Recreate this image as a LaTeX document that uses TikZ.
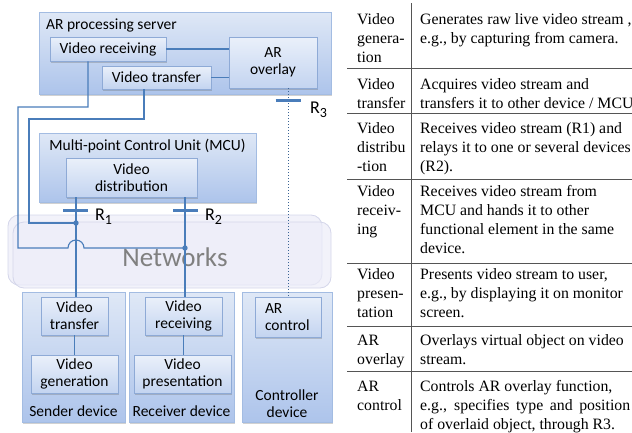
\documentclass[tikz,border=0pt]{standalone}
\usepackage{fontspec}
\setmainfont{Liberation Serif}
\newfontfamily\dfont{Carlito}
\newfontfamily\tfont{Liberation Serif}
\usetikzlibrary{shadows,calc}
\definecolor{lnblue}{HTML}{4A7DBA}
\definecolor{ctop}{HTML}{DFE8F6}
\definecolor{cbot}{HTML}{ADC4EB}
\definecolor{cbrd}{HTML}{A3BCE2}
\definecolor{itop}{HTML}{EAF0FA}
\definecolor{ibot}{HTML}{C3D4F0}
\definecolor{ibrd}{HTML}{8EAAD6}
\definecolor{netfill}{HTML}{ECECF8}
\definecolor{netbrd}{HTML}{D4D6EA}
\definecolor{tgray}{HTML}{555555}
\begin{document}
\begin{tikzpicture}[x=1pt,y=-1pt,
  dshadow/.style={drop shadow={shadow xshift=1pt,shadow yshift=-1.5pt,opacity=0.3,fill=black!60}},
  cont/.style={draw=cbrd,line width=0.8pt,top color=ctop,bottom color=cbot,dshadow,inner sep=0},
  ibox/.style={draw=ibrd,line width=0.8pt,top color=itop,bottom color=ibot,dshadow,inner sep=0,
    align=center,font=\dfont\fontsize{15.5}{17}\selectfont},
  ttl/.style={inner sep=0,align=center,font=\dfont\fontsize{15.5}{17}\selectfont},
  net/.style={draw=netbrd,line width=0.8pt,fill=netfill,fill opacity=0.7,rounded corners=11pt,inner sep=0},
  conn/.style={draw=lnblue,line width=1.1pt},
  dotconn/.style={draw=lnblue!80!black,line width=1pt,dotted},
  tickbar/.style={draw=lnblue,line width=3pt},
  dotmark/.style={fill=lnblue},
  rlab/.style={inner sep=0,anchor=base west,font=\dfont\fontsize{18}{18}\selectfont},
  lcell/.style={inner sep=0,anchor=base west,font=\tfont\fontsize{15.8}{19.2}\selectfont},
  tline/.style={draw=tgray,line width=0.9pt}
]
\path[use as bounding box] (0,0) rectangle (632,432);

% containers
\node[cont,minimum width=292pt,minimum height=82pt] (srv) at (185,53) {};
\node[ttl,anchor=west] (srvt) at (46,25) {AR processing server};
\node[cont,minimum width=217pt,minimum height=69pt] (mcu) at (147.5,167.5) {};
\node[ttl] (mcut) at (147.5,146) {Multi-point Control Unit (MCU)};
\node[cont,minimum width=103pt,minimum height=130pt] (snd) at (73.5,357) {};
\node[ttl] (sndt) at (73.5,411) {Sender device};
\node[cont,minimum width=105pt,minimum height=130pt] (rcv) at (181.5,357) {};
\node[ttl] (rcvt) at (181.5,411) {Receiver device};
\node[cont,minimum width=90pt,minimum height=130pt] (ctl) at (287,357) {};
\node[ttl] (ctlt) at (287,404) {Controller\\device};

% networks
\node[net,minimum width=314pt,minimum height=70pt] (netA) at (165,250) {};
\node[net,minimum width=318pt,minimum height=66pt] (netB) at (172,255) {};
\node[inner sep=0,text=black!50,font=\dfont\fontsize{27}{27}\selectfont] (nett) at (175,257) {Networks};

% coordinates
\coordinate (pA) at (76,223);
\coordinate (pB) at (185,248);
\coordinate (b1) at (88,107);
\coordinate (b2) at (18,107);
\coordinate (b3) at (18,248);
\coordinate (jl) at (68,248);
\coordinate (c1) at (144,119);
\coordinate (c2) at (29,119);
\coordinate (c3) at (29,223);
\coordinate (t1) at (75.5,210);
\coordinate (t2) at (185.5,210);
\coordinate (p3) at (288,100);

% inner boxes
\node[ibox,minimum width=116pt,minimum height=24pt] (vrecv) at (108,49) {Video receiving};
\node[ibox,minimum width=109pt,minimum height=23pt] (vtrans) at (156.5,77.5) {Video transfer};
\node[ibox,minimum width=88pt,minimum height=51pt] (aro) at (273,62.5) {AR\\overlay};
\node[ibox,minimum width=131pt,minimum height=39pt] (vdist) at (131.5,177.5) {Video\\distribution};
\node[ibox,minimum width=67pt,minimum height=38pt] (svt) at (74.5,316) {Video\\transfer};
\node[ibox,minimum width=87pt,minimum height=38pt] (svg) at (74.5,374) {Video\\generation};
\node[ibox,minimum width=77pt,minimum height=38pt] (rvr) at (183.5,316) {Video\\receiving};
\node[ibox,minimum width=97pt,minimum height=38pt] (rvp) at (182.5,374) {Video\\presentation};
\node[ibox,minimum width=66pt,minimum height=40pt,text width=46pt,align=left] (arc) at (288,317) {AR\\control};

% connectors
\draw[conn] (vrecv.east) -- (aro.west |- vrecv.east);
\draw[conn] (vtrans.east) -- (aro.west |- vtrans.east);
\draw[conn] (vrecv.south -| b1) -- (b1) -- (b2) -- (b3) -- (jl) arc (180:0:8pt) -- (pB);
\draw[conn] (vtrans.south -| c1) -- (c1) -- (c2) -- (c3) -- (pA);
\draw[conn] (vdist.south -| pA) -- (svt.north -| pA);
\draw[conn] (vdist.south -| pB) -- (rvr.north -| pB);
\draw[conn] (svt.south) -- (svg.north -| svt.south);
\draw[conn] (rvr.south) -- (rvp.north -| rvr.south);
\draw[dotconn] (aro.south -| p3) -- (arc.north -| p3);
\fill[dotmark] (pA) circle (2.7pt);
\fill[dotmark] (pB) circle (2.7pt);

% reference points
\draw[tickbar] ([xshift=-12.5pt]t1) -- ([xshift=12.5pt]t1);
\draw[tickbar] ([xshift=-12.5pt]t2) -- ([xshift=12.5pt]t2);
\draw[tickbar] ([xshift=-12.5pt]p3) -- ([xshift=12.5pt]p3);
\node[rlab] (r1) at (95,220) {R\raisebox{-4pt}{\fontsize{14}{14}\selectfont 1}};
\node[rlab] (r2) at (205,220) {R\raisebox{-4pt}{\fontsize{14}{14}\selectfont 2}};
\node[rlab] (r3) at (310,113) {R\raisebox{-4pt}{\fontsize{14}{14}\selectfont 3}};

% table
\draw[tline] (411,3) -- (411,432);
\foreach \yy in {68,113,179,263,326,371} \draw[tline] (347,\yy) -- (632,\yy);

\node[lcell] (l1) at (357,24) {\parbox[t]{60pt}{Video\\genera-\\tion}};
\node[lcell] (l2) at (357,89) {\parbox[t]{60pt}{Video\\transfer}};
\node[lcell] (l3) at (357,133) {\parbox[t]{60pt}{Video\\distribu\\-tion}};
\node[lcell] (l4) at (357,196) {\parbox[t]{60pt}{Video\\receiv-\\ing}};
\node[lcell] (l5) at (357,279) {\parbox[t]{60pt}{Video\\presen-\\tation}};
\node[lcell] (l6) at (357,345) {\parbox[t]{60pt}{AR\\overlay}};
\node[lcell] (l7) at (357,391) {\parbox[t]{60pt}{AR\\control}};

\node[lcell] (d1) at (420,24) {\parbox[t]{240pt}{Generates raw live video stream ,\\e.g., by capturing from camera.}};
\node[lcell] (d2) at (420,89) {\parbox[t]{240pt}{Acquires video stream and\\transfers it to other device / MCU}};
\node[lcell] (d3) at (420,133) {\parbox[t]{240pt}{Receives video stream (R1) and\\relays it to one or several devices\\(R2).}};
\node[lcell] (d4) at (420,196) {\parbox[t]{240pt}{Receives video stream from\\MCU and hands it to other\\functional element in the same\\device.}};
\node[lcell] (d5) at (420,279) {\parbox[t]{240pt}{Presents video stream to user,\\e.g., by displaying it on monitor\\screen.}};
\node[lcell] (d6) at (420,345) {\parbox[t]{240pt}{Overlays virtual object on video\\stream.}};
\node[lcell] (d7) at (420,391) {\parbox[t]{240pt}{Controls AR overlay function,\\\makebox[210pt][s]{e.g., specifies type and position}\\of overlaid object, through R3.}};
\end{tikzpicture}
\end{document}
